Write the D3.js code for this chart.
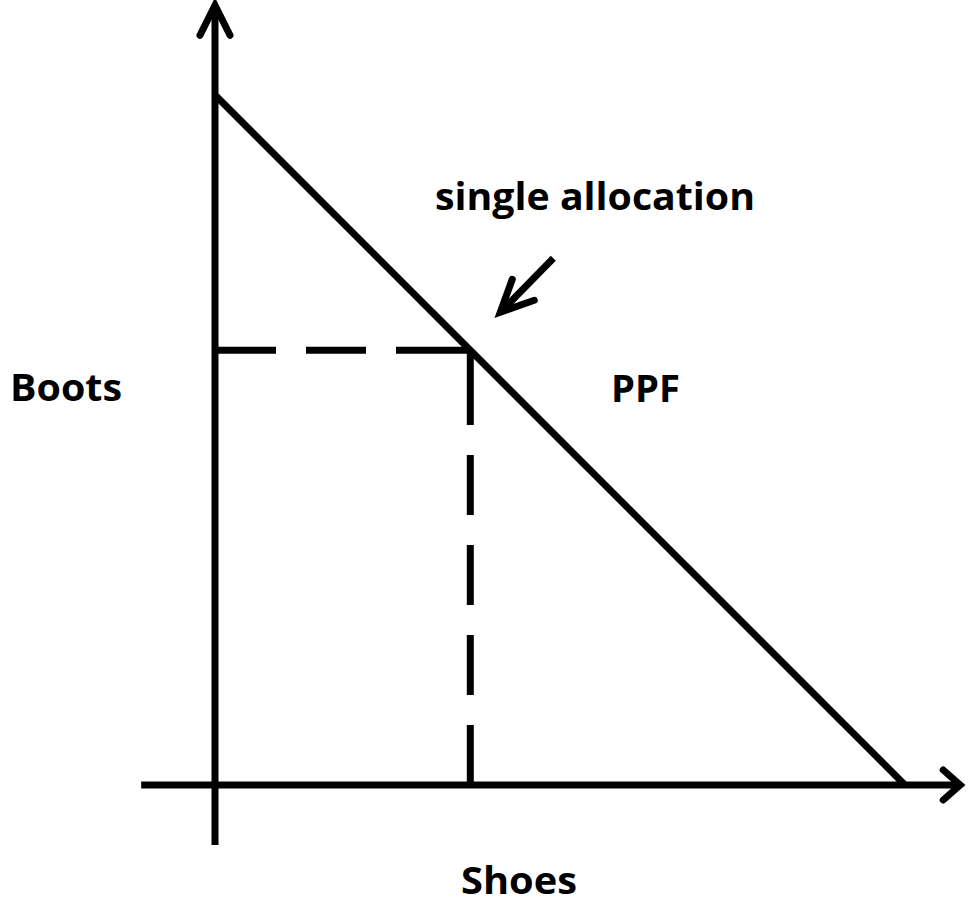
<!DOCTYPE html>
<html>
<head>
<meta charset="utf-8">
<script src="https://cdn.jsdelivr.net/npm/d3@7"></script>
<style>
  html, body { margin: 0; padding: 0; background: #fff; }
  svg { display: block; }
  text { font-family: "Open Sans", Lato, sans-serif; font-weight: bold; fill: #000; }
</style>
</head>
<body>
<svg id="chart" width="970" height="906"></svg>
<script>
// ---- data (in chart units) ----
const ppfIntercepts = [10, 10];          // [max shoes, max boots]
const allocation = [3.7, 6.3];           // [shoes, boots] chosen point on the PPF
const xAxisExtent = [-1.07, 10.8];       // shoes axis drawn range
const yAxisExtent = [-0.87, 11.3];       // boots axis drawn range
const xLabel = "Shoes";
const yLabel = "Boots";
const curveLabel = "PPF";
const pointLabel = "single allocation";

const svg = d3.select("#chart");
const x = d3.scaleLinear().domain([0, 10]).range([215, 905]);
const y = d3.scaleLinear().domain([0, 10]).range([785, 95]);
const sw = 7;

// axes
svg.append("line")
  .attr("x1", x(xAxisExtent[0])).attr("x2", x(xAxisExtent[1]))
  .attr("y1", y(0)).attr("y2", y(0))
  .attr("stroke", "#000").attr("stroke-width", sw);
svg.append("line")
  .attr("x1", x(0)).attr("x2", x(0))
  .attr("y1", y(yAxisExtent[0])).attr("y2", y(yAxisExtent[1]))
  .attr("stroke", "#000").attr("stroke-width", sw);

// arrowheads
const xt = x(xAxisExtent[1]), yt = y(yAxisExtent[1]);
svg.append("path")
  .attr("d", `M${xt - 17},${y(0) - 15} L${xt},${y(0)} L${xt - 17},${y(0) + 15}`)
  .attr("fill", "none").attr("stroke", "#000").attr("stroke-width", sw)
  .attr("stroke-linecap", "round").attr("stroke-linejoin", "miter");
svg.append("path")
  .attr("d", `M${x(0) - 15},${yt + 30} L${x(0)},${yt} L${x(0) + 15},${yt + 30}`)
  .attr("fill", "none").attr("stroke", "#000").attr("stroke-width", sw)
  .attr("stroke-linecap", "round").attr("stroke-linejoin", "miter");

// PPF line
svg.append("line")
  .attr("x1", x(0)).attr("y1", y(ppfIntercepts[1]))
  .attr("x2", x(ppfIntercepts[0])).attr("y2", y(0))
  .attr("stroke", "#000").attr("stroke-width", sw);

// dashed guides
svg.append("line")
  .attr("x1", x(0)).attr("y1", y(allocation[1]))
  .attr("x2", x(allocation[0])).attr("y2", y(allocation[1]))
  .attr("stroke", "#000").attr("stroke-width", sw)
  .attr("stroke-dasharray", "61,30,60,30,200");
svg.append("line")
  .attr("x1", x(allocation[0])).attr("y1", y(0))
  .attr("x2", x(allocation[0])).attr("y2", y(allocation[1]))
  .attr("stroke", "#000").attr("stroke-width", sw)
  .attr("stroke-dasharray", "60,30,60,30,60,30,60,30,200");

// pointer arrow
const px = x(allocation[0]), py = y(allocation[1]);
const tipX = px + 30, tipY = py - 38;
const tailX = tipX + 53, tailY = tipY - 54;
svg.append("line")
  .attr("x1", tailX).attr("y1", tailY).attr("x2", tipX + 3).attr("y2", tipY - 3)
  .attr("stroke", "#000").attr("stroke-width", sw);
svg.append("path")
  .attr("d", `M${tipX + 12},${tipY - 33} L${tipX},${tipY} L${tipX + 34},${tipY - 12}`)
  .attr("fill", "none").attr("stroke", "#000").attr("stroke-width", sw)
  .attr("stroke-linecap", "round").attr("stroke-linejoin", "miter");

// labels
svg.append("text").attr("x", 595).attr("y", 210).attr("text-anchor", "middle")
  .attr("font-size", 37).attr("textLength", 320).attr("lengthAdjust", "spacingAndGlyphs")
  .text(pointLabel);
svg.append("text").attr("x", 10).attr("y", 401).attr("font-size", 37)
  .attr("textLength", 112).attr("lengthAdjust", "spacingAndGlyphs").text(yLabel);
svg.append("text").attr("x", 611).attr("y", 402).attr("font-size", 37)
  .attr("textLength", 69).attr("lengthAdjust", "spacingAndGlyphs").text(curveLabel);
svg.append("text").attr("x", 519).attr("y", 894).attr("text-anchor", "middle")
  .attr("font-size", 37).attr("textLength", 116).attr("lengthAdjust", "spacingAndGlyphs")
  .text(xLabel);
</script>
</body>
</html>
